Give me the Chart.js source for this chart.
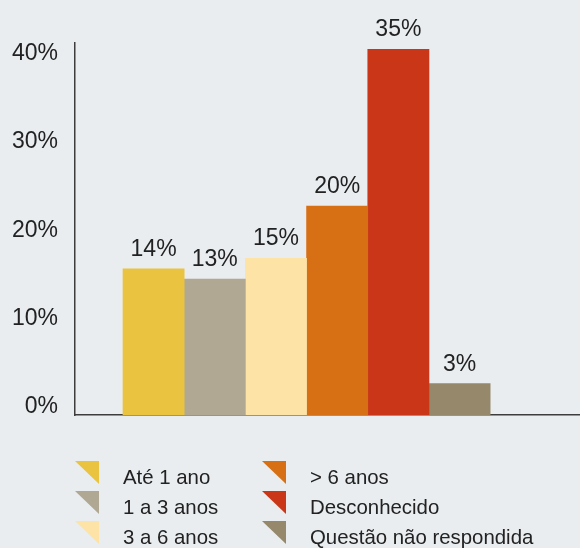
<!DOCTYPE html>
<html>
<head>
<meta charset="utf-8">
<script src="https://cdn.jsdelivr.net/npm/chart.js@4/dist/chart.umd.min.js"></script>
<style>
  body { margin: 0; background: #e9edf0; }
  #wrap { position: relative; width: 580px; height: 548px; }
  #legend { position: absolute; left: 0; top: 0; width: 580px; height: 548px; pointer-events: none;
            font-family: "Liberation Sans", Arial, sans-serif; font-size: 20.4px; color: #222; }
  .mark { position: absolute; width: 24px; height: 23px; clip-path: polygon(0 0, 100% 0, 100% 100%); }
  .txt { position: absolute; line-height: 30px; white-space: nowrap; }
</style>
</head>
<body>
<div id="wrap">
  <canvas id="anos" width="580" height="548"></canvas>
  <div id="legend"></div>
</div>
<script>
// chart data
const categories = ["Até 1 ano", "1 a 3 anos", "3 a 6 anos", "> 6 anos", "Desconhecido", "Questão não respondida"];
const shares = [14, 13, 15, 20, 35, 3];
const colors = ["#eac341", "#b0a892", "#fde3a6", "#d76f14", "#c93618", "#95886b"];
const tickLabels = ["0%", "10%", "20%", "30%", "40%"];

const fontFamily = '"Liberation Sans", Arial, sans-serif';
const textColor = "#222";

// percentage above each bar
const valueLabels = {
  id: "valueLabels",
  afterDatasetsDraw(chart) {
    const ctx = chart.ctx;
    ctx.save();
    ctx.font = "23px " + fontFamily;
    ctx.fillStyle = textColor;
    ctx.textAlign = "center";
    ctx.textBaseline = "alphabetic";
    chart.data.datasets.forEach((ds, i) => {
      chart.getDatasetMeta(i).data.forEach((bar) => {
        ctx.fillText(shares[i] + "%", bar.x, bar.y - 13);
      });
    });
    ctx.restore();
  }
};

const ctx = document.getElementById("anos").getContext("2d");

new Chart(ctx, {
  type: "bar",
  data: {
    datasets: categories.map((name, i) => ({
      label: name,
      data: [{ x: i + 1, y: shares[i] }],
      backgroundColor: colors[i],
      borderWidth: 0,
      grouped: false,
      barPercentage: 1,
      categoryPercentage: 1,
    })),
  },
  options: {
    responsive: false,
    animation: false,
    layout: { padding: { top: 43, bottom: 133, left: 0, right: 0 } },
    plugins: {
      legend: { display: false },
      tooltip: { enabled: false },
    },
    scales: {
      x: {
        type: "linear",
        offset: false,
        min: -0.284,
        max: 7.968,
        grid: { display: false, drawTicks: false },
        border: { display: true, color: "#3d3d3d", width: 1.5 },
        ticks: { display: false },
        afterBuildTicks: (scale) => { scale.ticks = [{ value: 1 }]; },
        afterFit: (scale) => { scale.height = 0; },
      },
      y: {
        min: 0,
        max: 35.6,
        grid: { display: false, drawTicks: false },
        border: { display: true, color: "#3d3d3d", width: 1.5 },
        ticks: {
          stepSize: 8.45,
          includeBounds: false,
          padding: 17,
          labelOffset: -8,
          color: textColor,
          font: { family: fontFamily, size: 23 },
          callback: (v, i) => tickLabels[i],
        },
        afterFit: (scale) => { scale.width = 75; },
      },
    },
  },
  plugins: [valueLabels],
});

// legend, two columns of three
const legend = document.getElementById("legend");
categories.forEach((name, i) => {
  const col = Math.floor(i / 3);
  const row = i % 3;
  const left = col === 0 ? 75 : 262;
  const top = 461 + row * 30;
  const mark = document.createElement("div");
  mark.className = "mark";
  mark.style.left = left + "px";
  mark.style.top = top + "px";
  mark.style.background = colors[i];
  const txt = document.createElement("div");
  txt.className = "txt";
  txt.style.left = (left + 48) + "px";
  txt.style.top = (top + 1) + "px";
  txt.textContent = name;
  legend.appendChild(mark);
  legend.appendChild(txt);
});
</script>
</body>
</html>
